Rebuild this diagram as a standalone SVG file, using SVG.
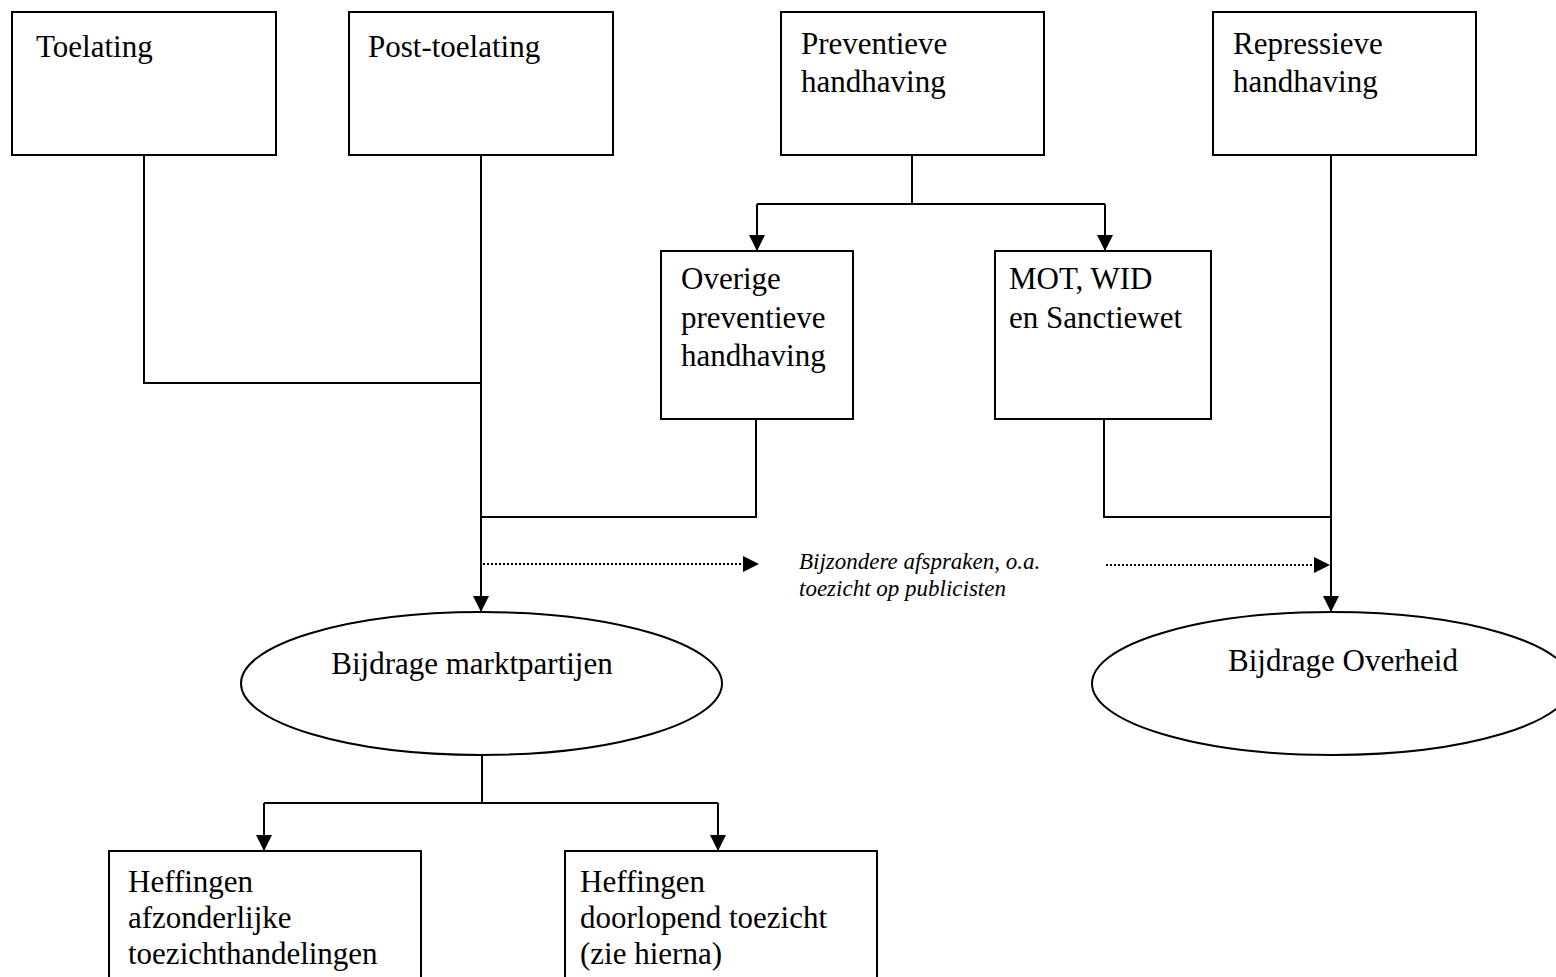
<svg xmlns="http://www.w3.org/2000/svg" width="1556" height="977" viewBox="0 0 1556 977">
<style>
.box{fill:#fff;stroke:#000;stroke-width:2}
.t{font-family:"Liberation Serif","Times New Roman",serif;font-size:31px;fill:#000}
.it{font-family:"Liberation Serif","Times New Roman",serif;font-size:23px;font-style:italic;fill:#000}
.ln{fill:none;stroke:#000;stroke-width:2}
.dot{fill:none;stroke:#000;stroke-width:2;stroke-dasharray:2 2}
</style>
<defs>
<marker id="ah" markerUnits="userSpaceOnUse" markerWidth="16" markerHeight="16" refX="16" refY="8" orient="auto" viewBox="0 0 16 16">
<path d="M0,0 L16,8 L0,16 Z" fill="#000"/>
</marker>
</defs>
<rect width="1556" height="977" fill="#fff"/>
<g id="connectors">
<polyline class="ln" points="144,155 144,383 481,383"/>
<line class="ln" x1="481" y1="155" x2="481" y2="612" marker-end="url(#ah)"/>
<line class="ln" x1="912" y1="155" x2="912" y2="204"/>
<line class="ln" x1="757" y1="204" x2="1105" y2="204"/>
<line class="ln" x1="757" y1="204" x2="757" y2="251" marker-end="url(#ah)"/>
<line class="ln" x1="1105" y1="204" x2="1105" y2="251" marker-end="url(#ah)"/>
<polyline class="ln" points="756,419 756,517 481,517"/>
<polyline class="ln" points="1104,419 1104,517 1331,517"/>
<line class="ln" x1="1331" y1="155" x2="1331" y2="612" marker-end="url(#ah)"/>
<line class="dot" x1="483" y1="564" x2="759" y2="564" marker-end="url(#ah)"/>
<line class="dot" x1="1106" y1="565" x2="1330" y2="565" marker-end="url(#ah)"/>
<line class="ln" x1="482" y1="755" x2="482" y2="803"/>
<line class="ln" x1="264" y1="803" x2="718" y2="803"/>
<line class="ln" x1="264" y1="803" x2="264" y2="851" marker-end="url(#ah)"/>
<line class="ln" x1="718" y1="803" x2="718" y2="851" marker-end="url(#ah)"/>
</g>
<g id="toelating">
<rect class="box" x="12" y="12" width="264" height="143"/>
<text class="t" x="36" y="57">Toelating</text>
</g>
<g id="post-toelating">
<rect class="box" x="349" y="12" width="264" height="143"/>
<text class="t" x="368" y="57">Post-toelating</text>
</g>
<g id="preventieve">
<rect class="box" x="781" y="12" width="263" height="143"/>
<text class="t" x="801" y="54">Preventieve</text>
<text class="t" x="801" y="92">handhaving</text>
</g>
<g id="repressieve">
<rect class="box" x="1213" y="12" width="263" height="143"/>
<text class="t" x="1233" y="54">Repressieve</text>
<text class="t" x="1233" y="92">handhaving</text>
</g>
<g id="overige">
<rect class="box" x="661" y="251" width="192" height="168"/>
<text class="t" x="681" y="289">Overige</text>
<text class="t" x="681" y="328">preventieve</text>
<text class="t" x="681" y="366">handhaving</text>
</g>
<g id="mot">
<rect class="box" x="995" y="251" width="216" height="168"/>
<text class="t" x="1009" y="289">MOT, WID</text>
<text class="t" x="1009" y="328">en Sanctiewet</text>
</g>
<g id="bijzondere">
<text class="it" x="799" y="569">Bijzondere afspraken, o.a.</text>
<text class="it" x="799" y="596">toezicht op publicisten</text>
</g>
<g id="marktpartijen">
<ellipse class="box" cx="481.5" cy="683.5" rx="240.5" ry="71.5"/>
<text class="t" x="472" y="674" text-anchor="middle">Bijdrage marktpartijen</text>
</g>
<g id="overheid">
<ellipse class="box" cx="1332" cy="683.5" rx="240" ry="71.5"/>
<text class="t" x="1343" y="671" text-anchor="middle">Bijdrage Overheid</text>
</g>
<g id="heffingen-afzonderlijk">
<rect class="box" x="109" y="851" width="312" height="140"/>
<text class="t" x="128" y="892">Heffingen</text>
<text class="t" x="128" y="928">afzonderlijke</text>
<text class="t" x="128" y="964">toezichthandelingen</text>
</g>
<g id="heffingen-doorlopend">
<rect class="box" x="565" y="851" width="312" height="140"/>
<text class="t" x="580" y="892">Heffingen</text>
<text class="t" x="580" y="928">doorlopend toezicht</text>
<text class="t" x="580" y="964">(zie hierna)</text>
</g>
</svg>
